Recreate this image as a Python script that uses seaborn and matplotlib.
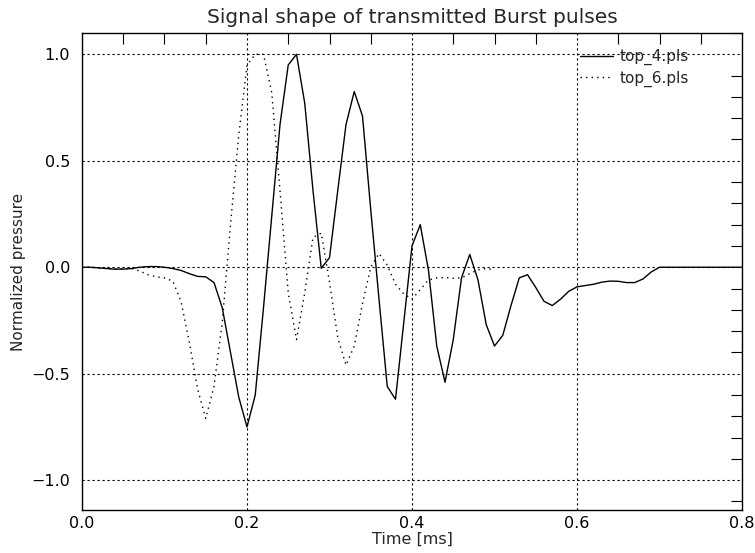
import numpy as np
import pandas as pd
import seaborn as sns
import matplotlib.pyplot as plt
from matplotlib.ticker import MultipleLocator, FuncFormatter

# sampled pulse shapes (time in ms, normalized pressure)
time_top4 = [0.00, 0.01, 0.02, 0.03, 0.04, 0.05, 0.06, 0.07, 0.08, 0.09,
             0.10, 0.11, 0.12, 0.13, 0.14, 0.15, 0.16, 0.17, 0.18, 0.19,
             0.20, 0.21, 0.22, 0.23, 0.24, 0.25, 0.26, 0.27, 0.28, 0.29,
             0.30, 0.31, 0.32, 0.33, 0.34, 0.35, 0.36, 0.37, 0.38, 0.39,
             0.40, 0.41, 0.42, 0.43, 0.44, 0.45, 0.46, 0.47, 0.48, 0.49,
             0.50, 0.51, 0.52, 0.53, 0.54, 0.55, 0.56, 0.57, 0.58, 0.59,
             0.60, 0.61, 0.62, 0.63, 0.64, 0.65, 0.66, 0.67, 0.68, 0.69,
             0.70, 0.80]
top4 = [0.0, 0.0, -0.003, -0.006, -0.009, -0.009, -0.006, 0.0, 0.003, 0.003,
        0.0, -0.006, -0.015, -0.03, -0.043, -0.045, -0.072, -0.19, -0.40, -0.61,
        -0.75, -0.60, -0.19, 0.24, 0.67, 0.95, 1.0, 0.77, 0.36, -0.005,
        0.045, 0.36, 0.67, 0.825, 0.71, 0.27, -0.15, -0.56, -0.62, -0.26,
        0.10, 0.20, -0.015, -0.37, -0.54, -0.34, -0.05, 0.06, -0.06, -0.27,
        -0.37, -0.32, -0.18, -0.05, -0.035, -0.095, -0.16, -0.18, -0.15, -0.113,
        -0.092, -0.086, -0.08, -0.07, -0.065, -0.066, -0.072, -0.072, -0.055, -0.022,
        0.0, 0.0]

time_top6 = [0.00, 0.01, 0.02, 0.03, 0.04, 0.05, 0.06, 0.07, 0.08, 0.09,
             0.10, 0.11, 0.12, 0.13, 0.14, 0.15, 0.16, 0.17, 0.18, 0.19,
             0.20, 0.21, 0.22, 0.23, 0.24, 0.25, 0.26, 0.27, 0.28, 0.29,
             0.30, 0.31, 0.32, 0.33, 0.34, 0.35, 0.36, 0.37, 0.38, 0.39,
             0.40, 0.41, 0.42, 0.43, 0.44, 0.45, 0.46, 0.47, 0.48, 0.49,
             0.50]
top6 = [0.0, 0.0, -0.003, -0.006, -0.008, -0.006, -0.006, -0.018, -0.035, -0.045,
        -0.05, -0.065, -0.16, -0.35, -0.57, -0.71, -0.56, -0.26, 0.2, 0.62,
        0.95, 1.0, 1.0, 0.82, 0.36, -0.12, -0.34, -0.12, 0.14, 0.16,
        -0.07, -0.33, -0.46, -0.37, -0.17, 0.0, 0.065, 0.01, -0.08, -0.125,
        -0.15, -0.105, -0.06, -0.05, -0.048, -0.052, -0.05, -0.03, -0.012, -0.006,
        -0.012]

df = pd.concat([
    pd.DataFrame({'time': time_top4, 'pressure': top4, 'file': 'top_4.pls'}),
    pd.DataFrame({'time': time_top6, 'pressure': top6, 'file': 'top_6.pls'}),
])

sns.set_style('white')
plt.rcParams['font.family'] = ['DejaVu Sans']

fig = plt.figure(figsize=(7.55, 5.53), dpi=100)
ax = fig.add_axes([0.1086, 0.0778, 0.8742, 0.8625])

sns.lineplot(data=df, x='time', y='pressure', style='file', estimator=None,
             sort=False, color='black', linewidth=1.0,
             dashes={'top_4.pls': '', 'top_6.pls': (1, 3)}, ax=ax)

ax.set_xlim(0, 0.8)
ax.set_ylim(-1.14, 1.1)
ax.xaxis.set_major_locator(MultipleLocator(0.2))
ax.xaxis.set_minor_locator(MultipleLocator(0.05))
ax.yaxis.set_major_locator(MultipleLocator(0.5))
ax.yaxis.set_minor_locator(MultipleLocator(0.1))
fmt = FuncFormatter(lambda v, p: f'{v:.1f}'.replace('-', '\u2212'))
ax.xaxis.set_major_formatter(fmt)
ax.yaxis.set_major_formatter(fmt)
ax.tick_params(which='both', direction='in', top=True, right=True,
               colors='black', labelsize=11.5)
ax.tick_params(axis='x', which='major', length=0, pad=4)
ax.tick_params(axis='y', which='major', length=0, pad=8.5)
ax.tick_params(which='minor', length=8, width=0.8)
ax.grid(True, which='major', color='black', linestyle=(0, (2, 2.5)), linewidth=0.8)
for s in ax.spines.values():
    s.set_color('black')
    s.set_linewidth(1.0)

ax.set_title('Signal shape of transmitted Burst pulses', fontsize=14.5, pad=7)
ax.set_xlabel('Time [ms]', fontsize=11.5, labelpad=1)
ax.set_ylabel('Normalized pressure', fontsize=11, labelpad=4)

ax.legend(frameon=False, loc='upper right', bbox_to_anchor=(0.94, 0.995),
          fontsize=11, handlelength=2.2, handletextpad=0.4,
          labelspacing=0.35, title=None)

fig.savefig('out.png', dpi=100)
